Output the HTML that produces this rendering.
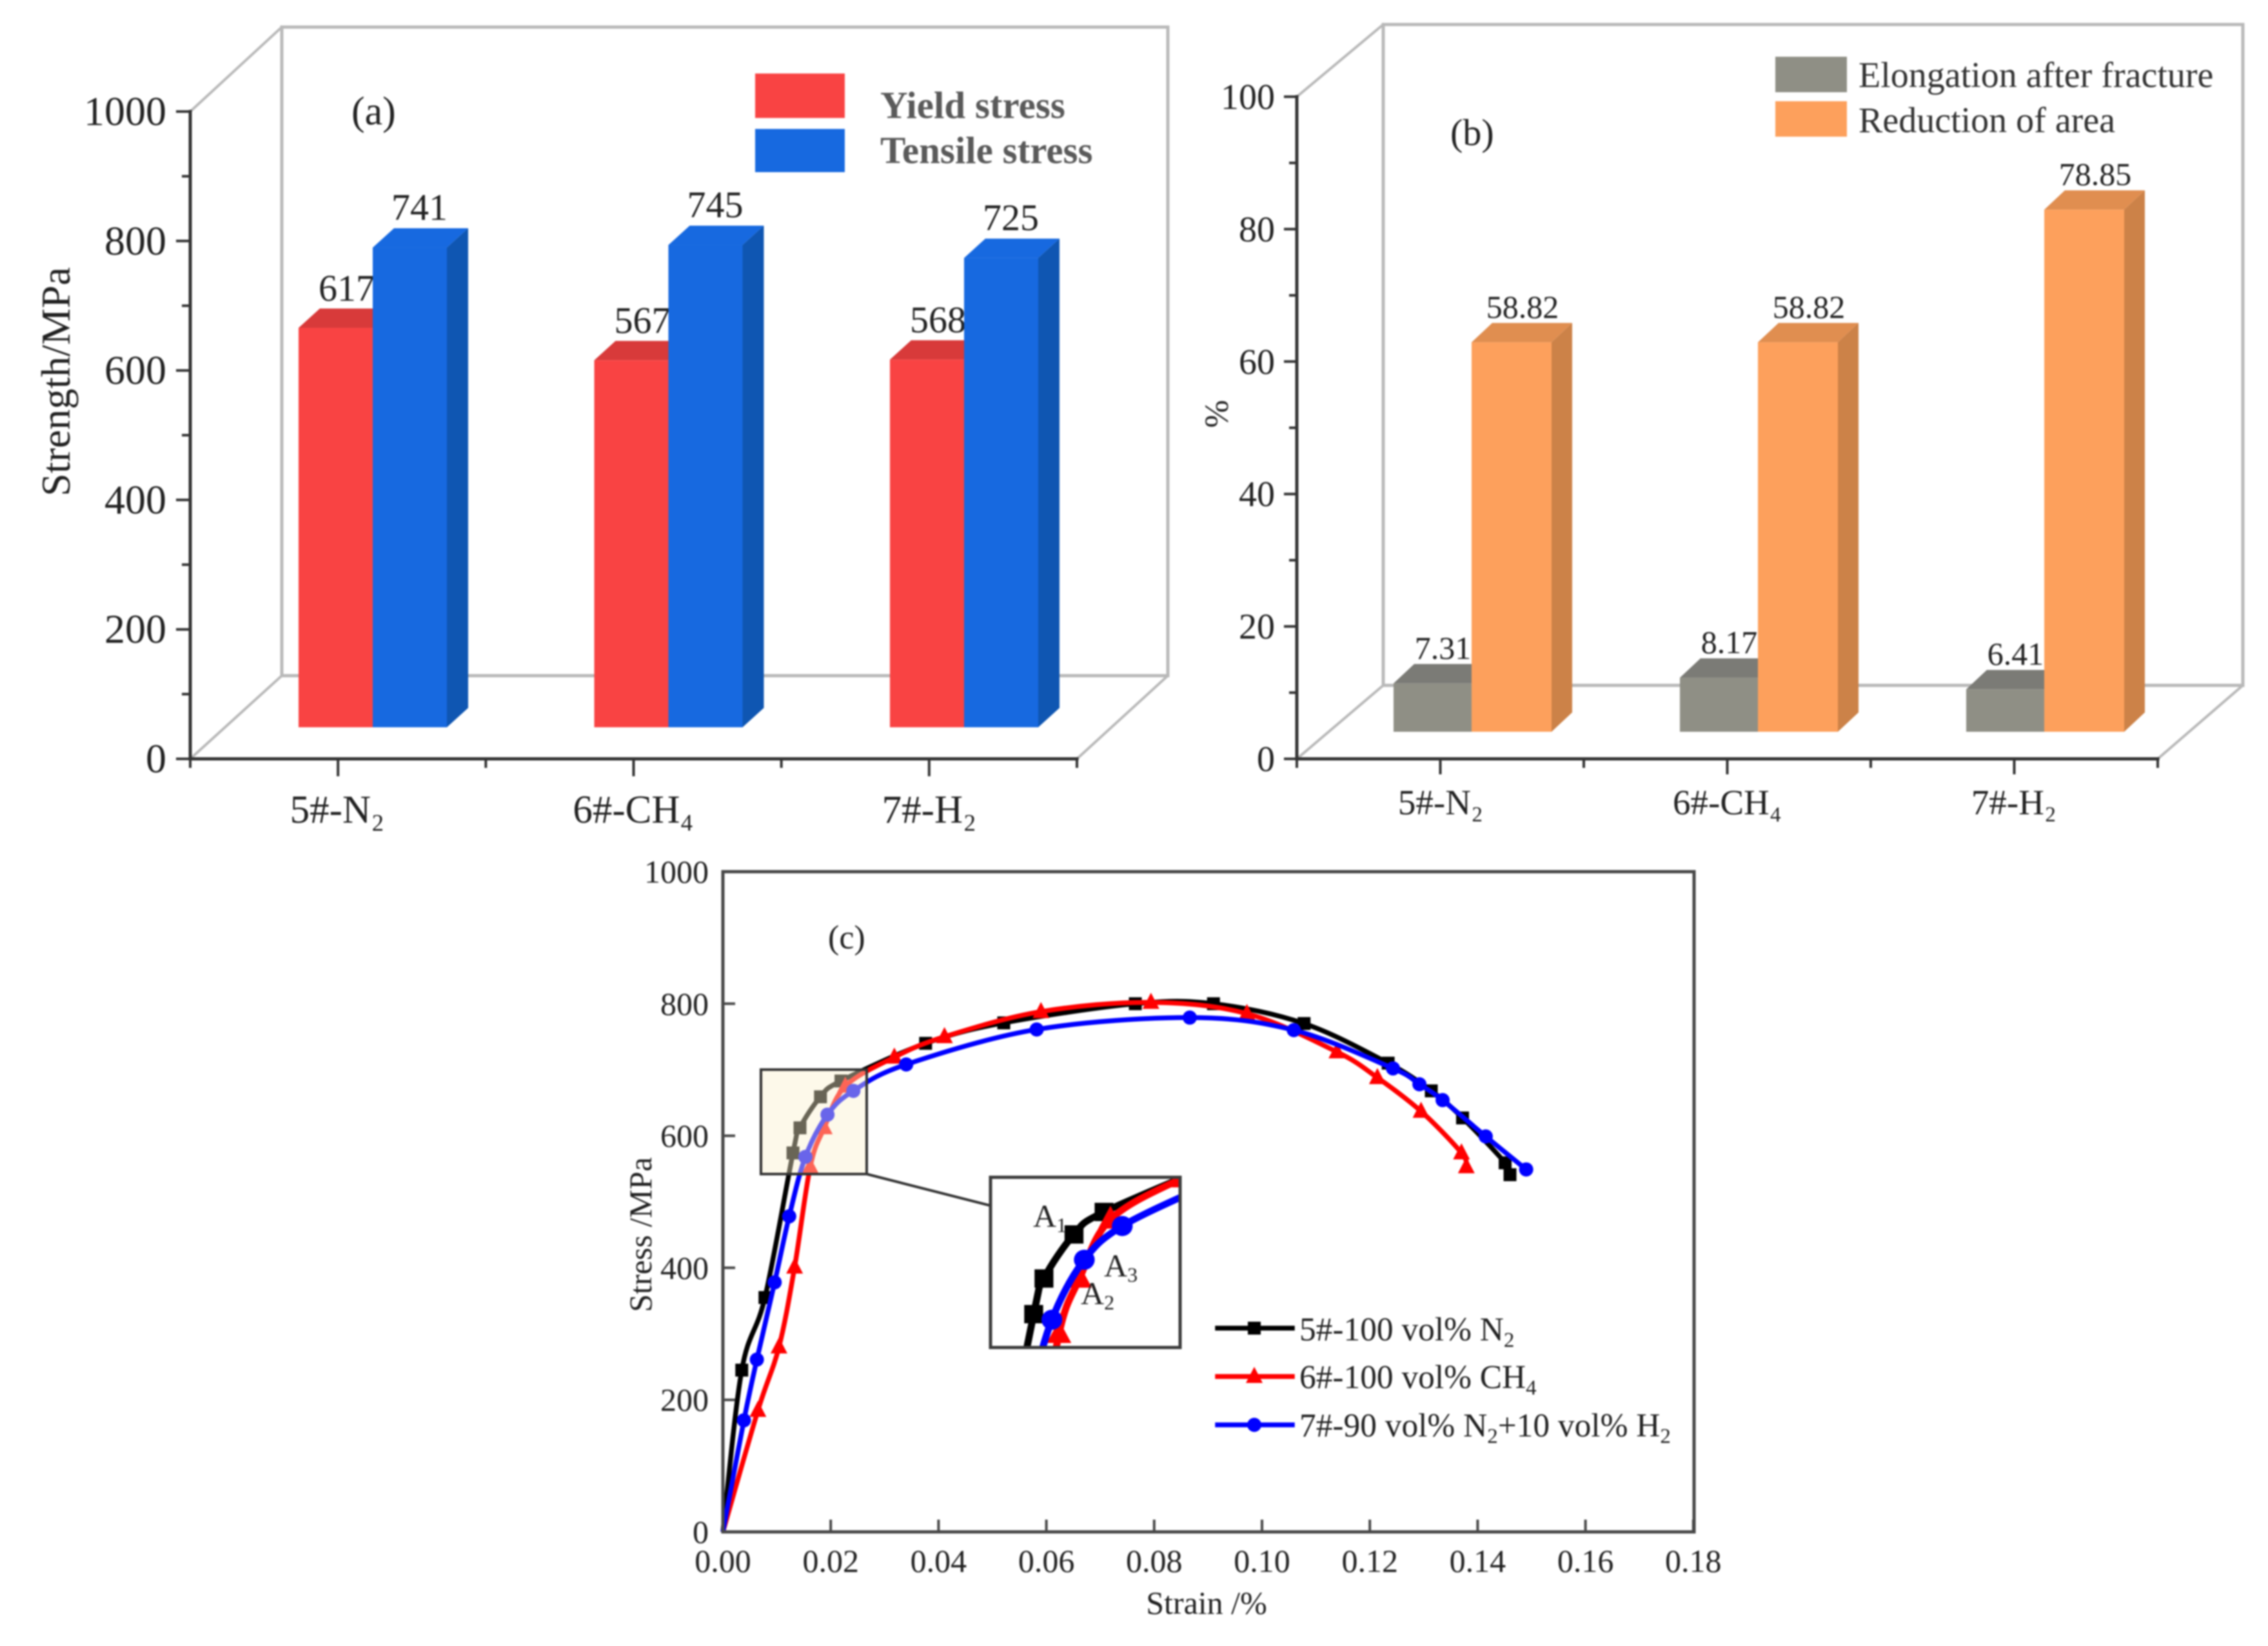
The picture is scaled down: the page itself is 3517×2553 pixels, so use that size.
<!DOCTYPE html>
<html lang="en">
<head>
<meta charset="utf-8">
<title>Strength, ductility and stress-strain curves</title>
<style>
html,body{margin:0;padding:0;background:#fff;}
svg{display:block;filter:blur(1.4px);}
text{font-family:"Liberation Serif","Noto Serif CJK SC",serif;fill:#222;}
</style>
</head>
<body>
<svg id="figure" xmlns="http://www.w3.org/2000/svg" width="3517" height="2553" viewBox="0 0 3517 2553">
  <rect x="0" y="0" width="3517" height="2553" fill="#ffffff"/>
  <defs>
    <clipPath id="inset-clip"><rect x="1536" y="1826" width="294" height="264"/></clipPath>
  </defs>

  <g id="panel-a">
    <text x="545" y="193" font-size="62">(a)</text>
    <text transform="translate(108 592) rotate(-90)" text-anchor="middle" font-size="64">Strength/MPa</text>
    <rect x="1171" y="114" width="139" height="69" fill="#f94343"/>
    <rect x="1171" y="200" width="139" height="67" fill="#1769e0"/>
    <text x="1365" y="183" font-size="59" font-weight="bold" style="fill:#5a5a5a">Yield stress</text>
    <text x="1365" y="253" font-size="59" font-weight="bold" style="fill:#5a5a5a">Tensile stress</text>
  </g>

  <g id="panel-b">
    <text x="2249" y="225" font-size="58">(b)</text>
    <text transform="translate(1904 642) rotate(-90)" text-anchor="middle" font-size="52">%</text>
    <rect x="2753" y="88" width="111" height="55" fill="#8f8f85"/>
    <rect x="2753" y="157" width="111" height="55" fill="#fda05c"/>
    <text x="2882" y="135" font-size="56" style="fill:#333">Elongation after fracture</text>
    <text x="2882" y="205" font-size="56" style="fill:#333">Reduction of area</text>
  </g>

  <g id="panel-c">
    <text x="1284" y="1471" font-size="52">(c)</text>
    <text transform="translate(1010 1915) rotate(-90)" text-anchor="middle" font-size="50">Stress /MPa</text>
    <text x="1871" y="2503" text-anchor="middle" font-size="50">Strain /%</text>
  </g>

  <g id="panel-c-legend">
    <text x="2015" y="2079" font-size="51.4">5#-100 vol% N<tspan font-size="33" dy="10">2</tspan></text>
    <text x="2015" y="2153" font-size="51.4">6#-100 vol% CH<tspan font-size="33" dy="10">4</tspan></text>
    <text x="2015" y="2228" font-size="51.4">7#-90 vol% N<tspan font-size="33" dy="10">2</tspan><tspan dy="-10">+10 vol% H</tspan><tspan font-size="33" dy="10">2</tspan></text>
  </g>
</svg>

<script>
// ---------- panel (a) data ----------
const strengthCategories = ['5#-N₂', '6#-CH₄', '7#-H₂'];
const yieldStress = [617, 567, 568];
const tensileStress = [741, 745, 725];
const strengthTicks = [0, 200, 400, 600, 800, 1000];
const strengthMinorTicks = [100, 300, 500, 700, 900];

// ---------- panel (b) data ----------
const ductilityCategories = ['5#-N₂', '6#-CH₄', '7#-H₂'];
const elongation = [7.31, 8.17, 6.41];
const reductionOfArea = [58.82, 58.82, 78.85];
const percentTicks = [0, 20, 40, 60, 80, 100];
const percentMinorTicks = [10, 30, 50, 70, 90];

// ---------- panel (c) data ----------
const strainTicks = ['0.00', '0.02', '0.04', '0.06', '0.08', '0.10', '0.12', '0.14', '0.16', '0.18'];
const stressTicks = [0, 200, 400, 600, 800, 1000];
const n2Strain = [0, 0.0035, 0.0078, 0.013, 0.0143, 0.0181, 0.0219, 0.0376, 0.0521, 0.0765, 0.091, 0.1078, 0.1234, 0.1314, 0.1372, 0.1451, 0.146];
const n2Stress = [0, 245, 355, 574, 612, 659, 683, 740, 771, 800, 800, 770, 710, 668, 627, 559, 541];
const ch4Strain = [0, 0.0065, 0.0104, 0.0133, 0.0162, 0.0188, 0.0227, 0.0318, 0.0411, 0.059, 0.0794, 0.0972, 0.1139, 0.1214, 0.1295, 0.137, 0.1379];
const ch4Stress = [0, 184, 280, 401, 553, 612, 675, 719, 750, 788, 802, 785, 727, 688, 637, 574, 553];
const h2Strain = [0, 0.0039, 0.0063, 0.0096, 0.0123, 0.0153, 0.0194, 0.0242, 0.034, 0.0582, 0.0866, 0.1059, 0.1243, 0.1292, 0.1335, 0.1415, 0.149];
const h2Stress = [0, 169, 261, 378, 478, 568, 632, 668, 708, 761, 779, 760, 702, 678, 654, 599, 549];

const NS = 'http://www.w3.org/2000/svg';
const AXIS = '#333333';
const WALL = '#b9b9b9';

function mk(parent, tag, attrs, txt) {
  const el = document.createElementNS(NS, tag);
  for (const k in attrs) el.setAttribute(k, attrs[k]);
  if (txt !== undefined) el.textContent = txt;
  parent.appendChild(el);
  return el;
}
function pts(list) { return list.map(p => p[0] + ',' + p[1]).join(' '); }

// 3-D bar: front, top and side faces
function bar3d(parent, name, x, w, base, top, dx, dy, colors, labelText, labelSize, labelDx, labelDy) {
  const g = mk(parent, 'g', {});
  
  
  const topFace = mk(g, 'polygon', { points: pts([[x, top], [x + dx, top - dy], [x + w + dx, top - dy], [x + w, top]]), fill: colors.top });
  
  
  const sideFace = mk(g, 'polygon', { points: pts([[x + w, top], [x + w + dx, top - dy], [x + w + dx, base - dy], [x + w, base]]), fill: colors.side });
  
  
  const front = mk(g, 'rect', { x: x, y: top, width: w, height: base - top, fill: colors.front });
  
  
  const label = mk(g, 'text', { x: x + w / 2 + labelDx, y: top - labelDy, 'text-anchor': 'middle', 'font-size': labelSize }, labelText);
  
  
}

function line(parent, name, x1, y1, x2, y2, color, width) {
  const l = mk(parent, 'line', { x1: x1, y1: y1, x2: x2, y2: y2, stroke: color, 'stroke-width': width, 'stroke-linecap': 'square' });
  
  
  return l;
}

// Shared 3-D frame for the bar panels
function frame3d(parent, f) {
  const wall = mk(parent, 'rect', { x: f.wx0, y: f.wy0, width: f.wx1 - f.wx0, height: f.wy1 - f.wy0, fill: 'none', stroke: WALL, 'stroke-width': 5 });
  
  
  line(parent, 'depth-line-top', f.x0, f.yTop, f.wx0, f.wy0, WALL, 4);
  line(parent, 'depth-line-left', f.x0, f.y0, f.wx0, f.wy1, WALL, 4);
  line(parent, 'depth-line-right', f.x1, f.y0, f.wx1, f.wy1, WALL, 4);
}

// ---------- panel (a) ----------
const panelA = document.getElementById('panel-a');
const yA = v => 1177 - v * 1.004;
const yBarA = v => 1128 - v * 1.004;
const xGroupA = i => 463 + i * 458.5;
frame3d(panelA, { x0: 295, x1: 1670, y0: yA(0), yTop: yA(1000), wx0: 437, wx1: 1811, wy0: 42, wy1: 1048 });

const redColors = { front: '#f94343', top: '#d83a3a', side: '#d83a3a' };
const blueColors = { front: '#1769e0', top: '#1769e0', side: '#0f56b2' };
strengthCategories.forEach((cat, i) => {
  const x = xGroupA(i);
  bar3d(panelA, 'bar-yield-' + i, x, 115, yBarA(0), yBarA(yieldStress[i]), 33, 30, redColors, String(yieldStress[i]), 58, 17, 42);
  bar3d(panelA, 'bar-tensile-' + i, x + 115, 115, yBarA(0), yBarA(tensileStress[i]), 33, 30, blueColors, String(tensileStress[i]), 58, 15, 43);
});

line(panelA, 'y-axis-line', 295, yA(0), 295, yA(1000), AXIS, 5);
line(panelA, 'x-axis-line', 295, yA(0), 1670, yA(0), AXIS, 5);
strengthTicks.forEach(v => {
  line(panelA, 'y-tick-' + v, 275, yA(v), 295, yA(v), AXIS, 4);
  const t = mk(panelA, 'text', { x: 258, y: yA(v) + 21, 'text-anchor': 'end', 'font-size': 64 }, String(v));
  
  
});
strengthMinorTicks.forEach(v => {
  line(panelA, 'y-minor-tick-' + v, 284, yA(v), 295, yA(v), AXIS, 4);
});
for (let i = 0; i <= strengthCategories.length * 2; i++) {
  const x = 295 + i * (1670 - 295) / (strengthCategories.length * 2);
  line(panelA, 'x-tick-' + i, x, yA(0), x, yA(0) + (i % 2 ? 25 : 12), AXIS, 4);
}
strengthCategories.forEach((cat, i) => {
  const t = mk(panelA, 'text', { x: 523 + i * 459, y: 1276, 'text-anchor': 'middle', 'font-size': 61 }, cat);
  
  
});

// ---------- panel (b) ----------
const panelB = document.getElementById('panel-b');
const yB = v => 1177 - v * 10.27;
const yBarB = v => 1135 - v * 10.27;
const xGroupB = i => 2161 + i * 444;
frame3d(panelB, { x0: 2011, x1: 3346, y0: yB(0), yTop: yB(100), wx0: 2145, wx1: 3478, wy0: 38, wy1: 1063 });

const grayColors = { front: '#8f8f85', top: '#7b7b76', side: '#7b7b76' };
const orangeColors = { front: '#fda05c', top: '#e08e50', side: '#cc8248' };
ductilityCategories.forEach((cat, i) => {
  const x = xGroupB(i);
  bar3d(panelB, 'bar-elongation-' + i, x, 121, yBarB(0), yBarB(elongation[i]), 32, 30, grayColors, elongation[i].toFixed(2), 50, 16, 38);
  bar3d(panelB, 'bar-reduction-' + i, x + 121, 124, yBarB(0), yBarB(reductionOfArea[i]), 32, 30, orangeColors, reductionOfArea[i].toFixed(2), 50, 17, 38);
});

line(panelB, 'y-axis-line-b', 2011, yB(0), 2011, yB(100), AXIS, 5);
line(panelB, 'x-axis-line-b', 2011, yB(0), 3346, yB(0), AXIS, 5);
percentTicks.forEach(v => {
  line(panelB, 'y-tick-b-' + v, 1993, yB(v), 2011, yB(v), AXIS, 4);
  const t = mk(panelB, 'text', { x: 1977, y: yB(v) + 19, 'text-anchor': 'end', 'font-size': 56 }, String(v));
  
  
});
percentMinorTicks.forEach(v => {
  line(panelB, 'y-minor-tick-b-' + v, 2001, yB(v), 2011, yB(v), AXIS, 4);
});
for (let i = 0; i <= ductilityCategories.length * 2; i++) {
  const x = 2011 + i * (3346 - 2011) / (ductilityCategories.length * 2);
  line(panelB, 'x-tick-b-' + i, x, yB(0), x, yB(0) + (i % 2 ? 22 : 12), AXIS, 4);
}
ductilityCategories.forEach((cat, i) => {
  const t = mk(panelB, 'text', { x: 2234 + i * 444.5, y: 1263, 'text-anchor': 'middle', 'font-size': 55 }, cat);
  
  
});

// ---------- panel (c) ----------
const panelC = document.getElementById('panel-c');
const xC = v => 1121 + v * 8360;
const yC = v => 2376 - v * 1.024;

function smoothPath(xs, ys) {
  const P = xs.map((x, i) => [xC(x), yC(ys[i])]);
  let d = 'M' + P[0][0] + ' ' + P[0][1];
  for (let i = 0; i < P.length - 1; i++) {
    const p0 = P[Math.max(i - 1, 0)], p1 = P[i], p2 = P[i + 1], p3 = P[Math.min(i + 2, P.length - 1)];
    const c1x = p1[0] + (p2[0] - p0[0]) / 6, c1y = p1[1] + (p2[1] - p0[1]) / 6;
    const c2x = p2[0] - (p3[0] - p1[0]) / 6, c2y = p2[1] - (p3[1] - p1[1]) / 6;
    d += ' C' + c1x + ' ' + c1y + ' ' + c2x + ' ' + c2y + ' ' + p2[0] + ' ' + p2[1];
  }
  return d;
}

function marker(parent, name, kind, x, y, color) {
  let m;
  if (kind === 'square') m = mk(parent, 'rect', { x: x - 10, y: y - 10, width: 20, height: 20, fill: color });
  else if (kind === 'triangle') m = mk(parent, 'polygon', { points: pts([[x, y - 15], [x + 13, y + 10], [x - 13, y + 10]]), fill: color });
  else m = mk(parent, 'circle', { cx: x, cy: y, r: 11, fill: color });
  
  
}

function drawSeries(parent, name, xs, ys, color, kind, width) {
  const g = mk(parent, 'g', {});
  
  
  const p = mk(g, 'path', { d: smoothPath(xs, ys), fill: 'none', stroke: color, 'stroke-width': width, 'stroke-linejoin': 'round' });
  
  
  for (let i = 0; i < xs.length; i++) {
    if (xs[i] === 0) continue;
    marker(g, name + '-point-' + i, kind, xC(xs[i]), yC(ys[i]), color);
  }
}

function drawAllSeries(parent, prefix, keep) {
  const pick = (xs, ys) => {
    const idx = xs.map((x, i) => i).filter(i => keep(xs[i], ys[i]));
    return [idx.map(i => xs[i]), idx.map(i => ys[i])];
  };
  const a = pick(n2Strain, n2Stress);
  const b = pick(ch4Strain, ch4Stress);
  const c = pick(h2Strain, h2Stress);
  drawSeries(parent, prefix + 'series-n2', a[0], a[1], '#000000', 'square', 7.5);
  drawSeries(parent, prefix + 'series-ch4', b[0], b[1], '#ff0000', 'triangle', 7.5);
  drawSeries(parent, prefix + 'series-h2', c[0], c[1], '#0000ff', 'circle', 7.5);
}

drawAllSeries(panelC, '', () => true);

const plotFrame = mk(panelC, 'rect', { x: 1121, y: 1352, width: 1506, height: 1024, fill: 'none', stroke: '#484848', 'stroke-width': 5 });



strainTicks.forEach((s, i) => {
  const v = parseFloat(s);
  line(panelC, 'x-tick-c-' + i, xC(v), yC(0), xC(v), yC(0) - 17, '#484848', 4);
  const t = mk(panelC, 'text', { x: xC(v), y: 2438, 'text-anchor': 'middle', 'font-size': 50 }, s);
  
  
});
stressTicks.forEach(v => {
  line(panelC, 'y-tick-c-' + v, 1121, yC(v), 1138, yC(v), '#484848', 4);
  const t = mk(panelC, 'text', { x: 1099, y: yC(v) + 17, 'text-anchor': 'end', 'font-size': 50 }, String(v));
  
  
});

// highlighted region
const highlight = mk(panelC, 'rect', { x: 1180, y: 1659, width: 164, height: 162, fill: 'rgb(250,240,205)', 'fill-opacity': 0.42 });


const highlightBorder = mk(panelC, 'rect', { x: 1180, y: 1659, width: 164, height: 162, fill: 'none', stroke: '#333', 'stroke-width': 4 });


line(panelC, 'inset-connector', 1344, 1821, 1536, 1870, '#333', 4);

// inset: same data, magnified; only the points near the magnified window are drawn
const insetBg = mk(panelC, 'rect', { x: 1536, y: 1826, width: 294, height: 264, fill: '#ffffff' });


const insetClip = mk(panelC, 'g', { 'clip-path': 'url(#inset-clip)' });


const insetScaled = mk(insetClip, 'g', { transform: 'matrix(1.467 0 0 1.42 -201 -501)' });


drawAllSeries(insetScaled, 'inset-', (x, y) => y >= 350 && x <= 0.045);
const insetBorder = mk(panelC, 'rect', { x: 1536, y: 1826, width: 294, height: 264, fill: 'none', stroke: '#3c3c3c', 'stroke-width': 5 });



const insetLabelNames = ['A', 'A', 'A'];
const insetLabelSubs = ['1', '3', '2'];
const insetLabelPos = [[1602, 1903], [1712, 1980], [1676, 2023]];
insetLabelNames.forEach((a, i) => {
  const t = mk(panelC, 'text', { x: insetLabelPos[i][0], y: insetLabelPos[i][1], 'font-size': 50 }, a);
  
  
  const sub = mk(t, 'tspan', { 'font-size': 32, dy: 8 }, insetLabelSubs[i]);
  
  
});

// legend for panel (c)
const legendC = document.getElementById('panel-c-legend');
const legendRows = [[2060, '#000000', 'square', 'n2'], [2135, '#ff0000', 'triangle', 'ch4'], [2210, '#0000ff', 'circle', 'h2']];
legendRows.forEach(r => {
  line(legendC, 'legend-line-' + r[3], 1888, r[0], 2004, r[0], r[1], 7.5);
  marker(legendC, 'legend-marker-' + r[3], r[2], 1945, r[0], r[1]);
});
document.getElementById('figure').appendChild(legendC);
</script>
</body>
</html>
